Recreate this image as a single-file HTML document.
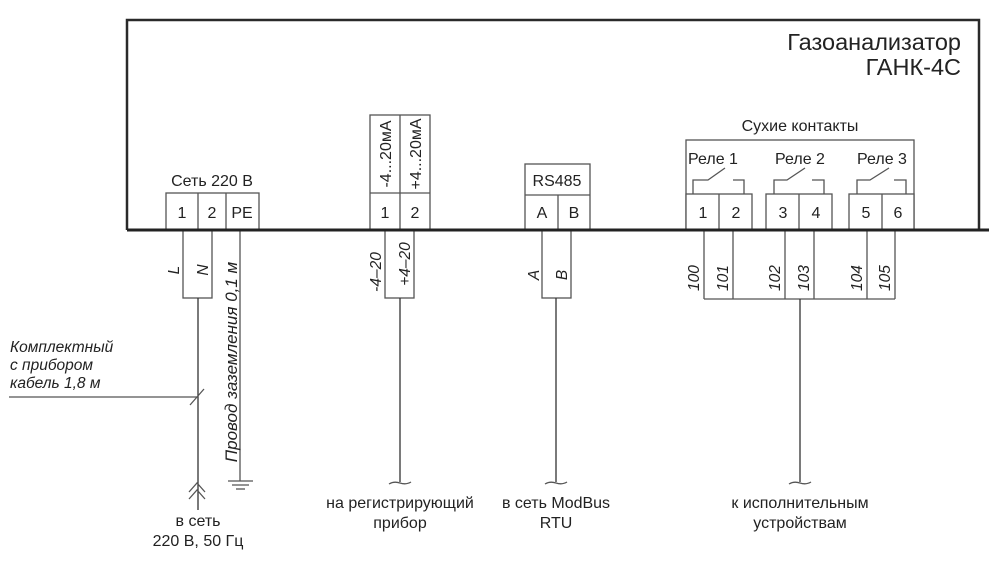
<!DOCTYPE html>
<html><head><meta charset="utf-8"><style>
html,body{margin:0;padding:0;background:#fff}
svg{display:block}
text{font-family:"Liberation Sans","DejaVu Sans",sans-serif;fill:#222}
.t{font-size:16px}
.i{font-size:15.5px;font-style:italic}
.r{font-size:16px}
</style></head><body>
<svg width="989" height="567" viewBox="0 0 989 567" xmlns="http://www.w3.org/2000/svg">
<g fill="none" stroke="#555" stroke-width="1.3">
<rect x="166" y="193" width="93" height="37"/>
<line x1="198" y1="193" x2="198" y2="230"/><line x1="226" y1="193" x2="226" y2="230"/>
<rect x="183" y="230" width="29" height="68"/>
<line x1="198" y1="298" x2="198" y2="510" stroke="#333"/>
<line x1="240" y1="230" x2="240" y2="481"/>
<line x1="228" y1="481" x2="253" y2="481"/><line x1="232" y1="485" x2="249" y2="485"/><line x1="236" y1="489" x2="245" y2="489"/>
<polyline points="189,492 197,483 205,492"/><polyline points="189,499 197,490 205,499"/>
<line x1="9" y1="397" x2="198" y2="397"/>
<line x1="190" y1="405" x2="204" y2="389"/>
<rect x="370" y="115" width="60" height="115"/>
<line x1="370" y1="193" x2="430" y2="193"/><line x1="400" y1="115" x2="400" y2="230"/>
<rect x="385" y="230" width="29" height="68"/>
<line x1="400" y1="298" x2="400" y2="482" stroke="#333"/>
<path d="M389,484 Q394,481 400,483 Q406,485 411,482"/>
<rect x="525" y="164" width="65" height="66"/>
<line x1="525" y1="195" x2="590" y2="195"/><line x1="558" y1="195" x2="558" y2="230"/>
<rect x="542" y="230" width="29" height="68"/>
<line x1="556" y1="298" x2="556" y2="482" stroke="#333"/>
<path d="M545,484 Q550,481 556,483 Q562,485 567,482"/>
<rect x="686" y="140" width="228" height="90"/>
<rect x="686" y="194" width="66" height="36" fill="#fff"/><line x1="719" y1="194" x2="719" y2="230"/>
<rect x="766" y="194" width="66" height="36" fill="#fff"/><line x1="799" y1="194" x2="799" y2="230"/>
<rect x="849" y="194" width="65" height="36" fill="#fff"/><line x1="882" y1="194" x2="882" y2="230"/>
<polyline points="693,194 693,180 708,180 725,168"/><polyline points="733,180 744,180 744,194"/>
<polyline points="774,194 774,180 787,180 805,168"/><polyline points="812,180 824,180 824,194"/>
<polyline points="857,194 857,180 870,180 889,168"/><polyline points="894,180 906,180 906,194"/>
<line x1="704" y1="230" x2="704" y2="299"/><line x1="733" y1="230" x2="733" y2="299"/>
<line x1="785" y1="230" x2="785" y2="299"/><line x1="814" y1="230" x2="814" y2="299"/>
<line x1="867" y1="230" x2="867" y2="299"/><line x1="895" y1="230" x2="895" y2="299"/>
<line x1="704" y1="299" x2="895" y2="299"/>
<line x1="800" y1="299" x2="800" y2="482" stroke="#333"/>
<path d="M789,484 Q794,481 800,483 Q806,485 811,482"/>
</g>
<polyline points="127,230 127,20 979,20 979,230" fill="none" stroke="#2a2a2a" stroke-width="2.5"/>
<line x1="127" y1="230" x2="989" y2="230" stroke="#222" stroke-width="3"/>

<text x="961" y="50" text-anchor="end" style="font-size:23.5px">Газоанализатор</text>
<text x="961" y="75" text-anchor="end" style="font-size:23.5px">ГАНК-4С</text>

<text class="t" x="212" y="186" text-anchor="middle">Сеть 220 В</text>
<text class="t" x="182" y="218" text-anchor="middle">1</text>
<text class="t" x="212" y="218" text-anchor="middle">2</text>
<text class="t" x="242" y="218" text-anchor="middle">PE</text>
<text class="i" transform="translate(179,270) rotate(-90)" text-anchor="middle">L</text>
<text class="i" transform="translate(208,270) rotate(-90)" text-anchor="middle">N</text>
<text class="i" transform="translate(237,362) rotate(-90)" text-anchor="middle" style="font-size:17px">Провод заземления 0,1 м</text>
<text class="i" x="10" y="352">Комплектный</text>
<text class="i" x="10" y="370">с прибором</text>
<text class="i" x="10" y="388">кабель 1,8 м</text>
<text class="t" x="198" y="526" text-anchor="middle">в сеть</text>
<text class="t" x="198" y="546" text-anchor="middle">220 В, 50 Гц</text>

<text class="t" transform="translate(391,154) rotate(-90)" text-anchor="middle">-4...20мА</text>
<text class="t" transform="translate(421,154) rotate(-90)" text-anchor="middle">+4...20мА</text>
<text class="t" x="385" y="218" text-anchor="middle">1</text>
<text class="t" x="415" y="218" text-anchor="middle">2</text>
<text class="i" transform="translate(381,272) rotate(-90)" text-anchor="middle">-4–20</text>
<text class="i" transform="translate(410,264) rotate(-90)" text-anchor="middle">+4–20</text>
<text class="t" x="400" y="508" text-anchor="middle">на регистрирующий</text>
<text class="t" x="400" y="528" text-anchor="middle">прибор</text>

<text class="t" x="557" y="186" text-anchor="middle">RS485</text>
<text class="t" x="542" y="218" text-anchor="middle">A</text>
<text class="t" x="574" y="218" text-anchor="middle">B</text>
<text class="i" transform="translate(539,275) rotate(-90)" text-anchor="middle">A</text>
<text class="i" transform="translate(567,275) rotate(-90)" text-anchor="middle">B</text>
<text class="t" x="556" y="508" text-anchor="middle">в сеть ModBus</text>
<text class="t" x="556" y="528" text-anchor="middle">RTU</text>

<text class="t" x="800" y="131" text-anchor="middle">Сухие контакты</text>
<text class="r" x="713" y="164" text-anchor="middle">Реле 1</text>
<text class="r" x="800" y="164" text-anchor="middle">Реле 2</text>
<text class="r" x="882" y="164" text-anchor="middle">Реле 3</text>
<text class="t" x="703" y="218" text-anchor="middle">1</text>
<text class="t" x="736" y="218" text-anchor="middle">2</text>
<text class="t" x="783" y="218" text-anchor="middle">3</text>
<text class="t" x="816" y="218" text-anchor="middle">4</text>
<text class="t" x="866" y="218" text-anchor="middle">5</text>
<text class="t" x="898" y="218" text-anchor="middle">6</text>
<text class="i" transform="translate(699,278) rotate(-90)" text-anchor="middle">100</text>
<text class="i" transform="translate(728,278) rotate(-90)" text-anchor="middle">101</text>
<text class="i" transform="translate(780,278) rotate(-90)" text-anchor="middle">102</text>
<text class="i" transform="translate(809,278) rotate(-90)" text-anchor="middle">103</text>
<text class="i" transform="translate(862,278) rotate(-90)" text-anchor="middle">104</text>
<text class="i" transform="translate(890,278) rotate(-90)" text-anchor="middle">105</text>
<text class="t" x="800" y="508" text-anchor="middle">к исполнительным</text>
<text class="t" x="800" y="528" text-anchor="middle">устройствам</text>
</svg>
</body></html>
